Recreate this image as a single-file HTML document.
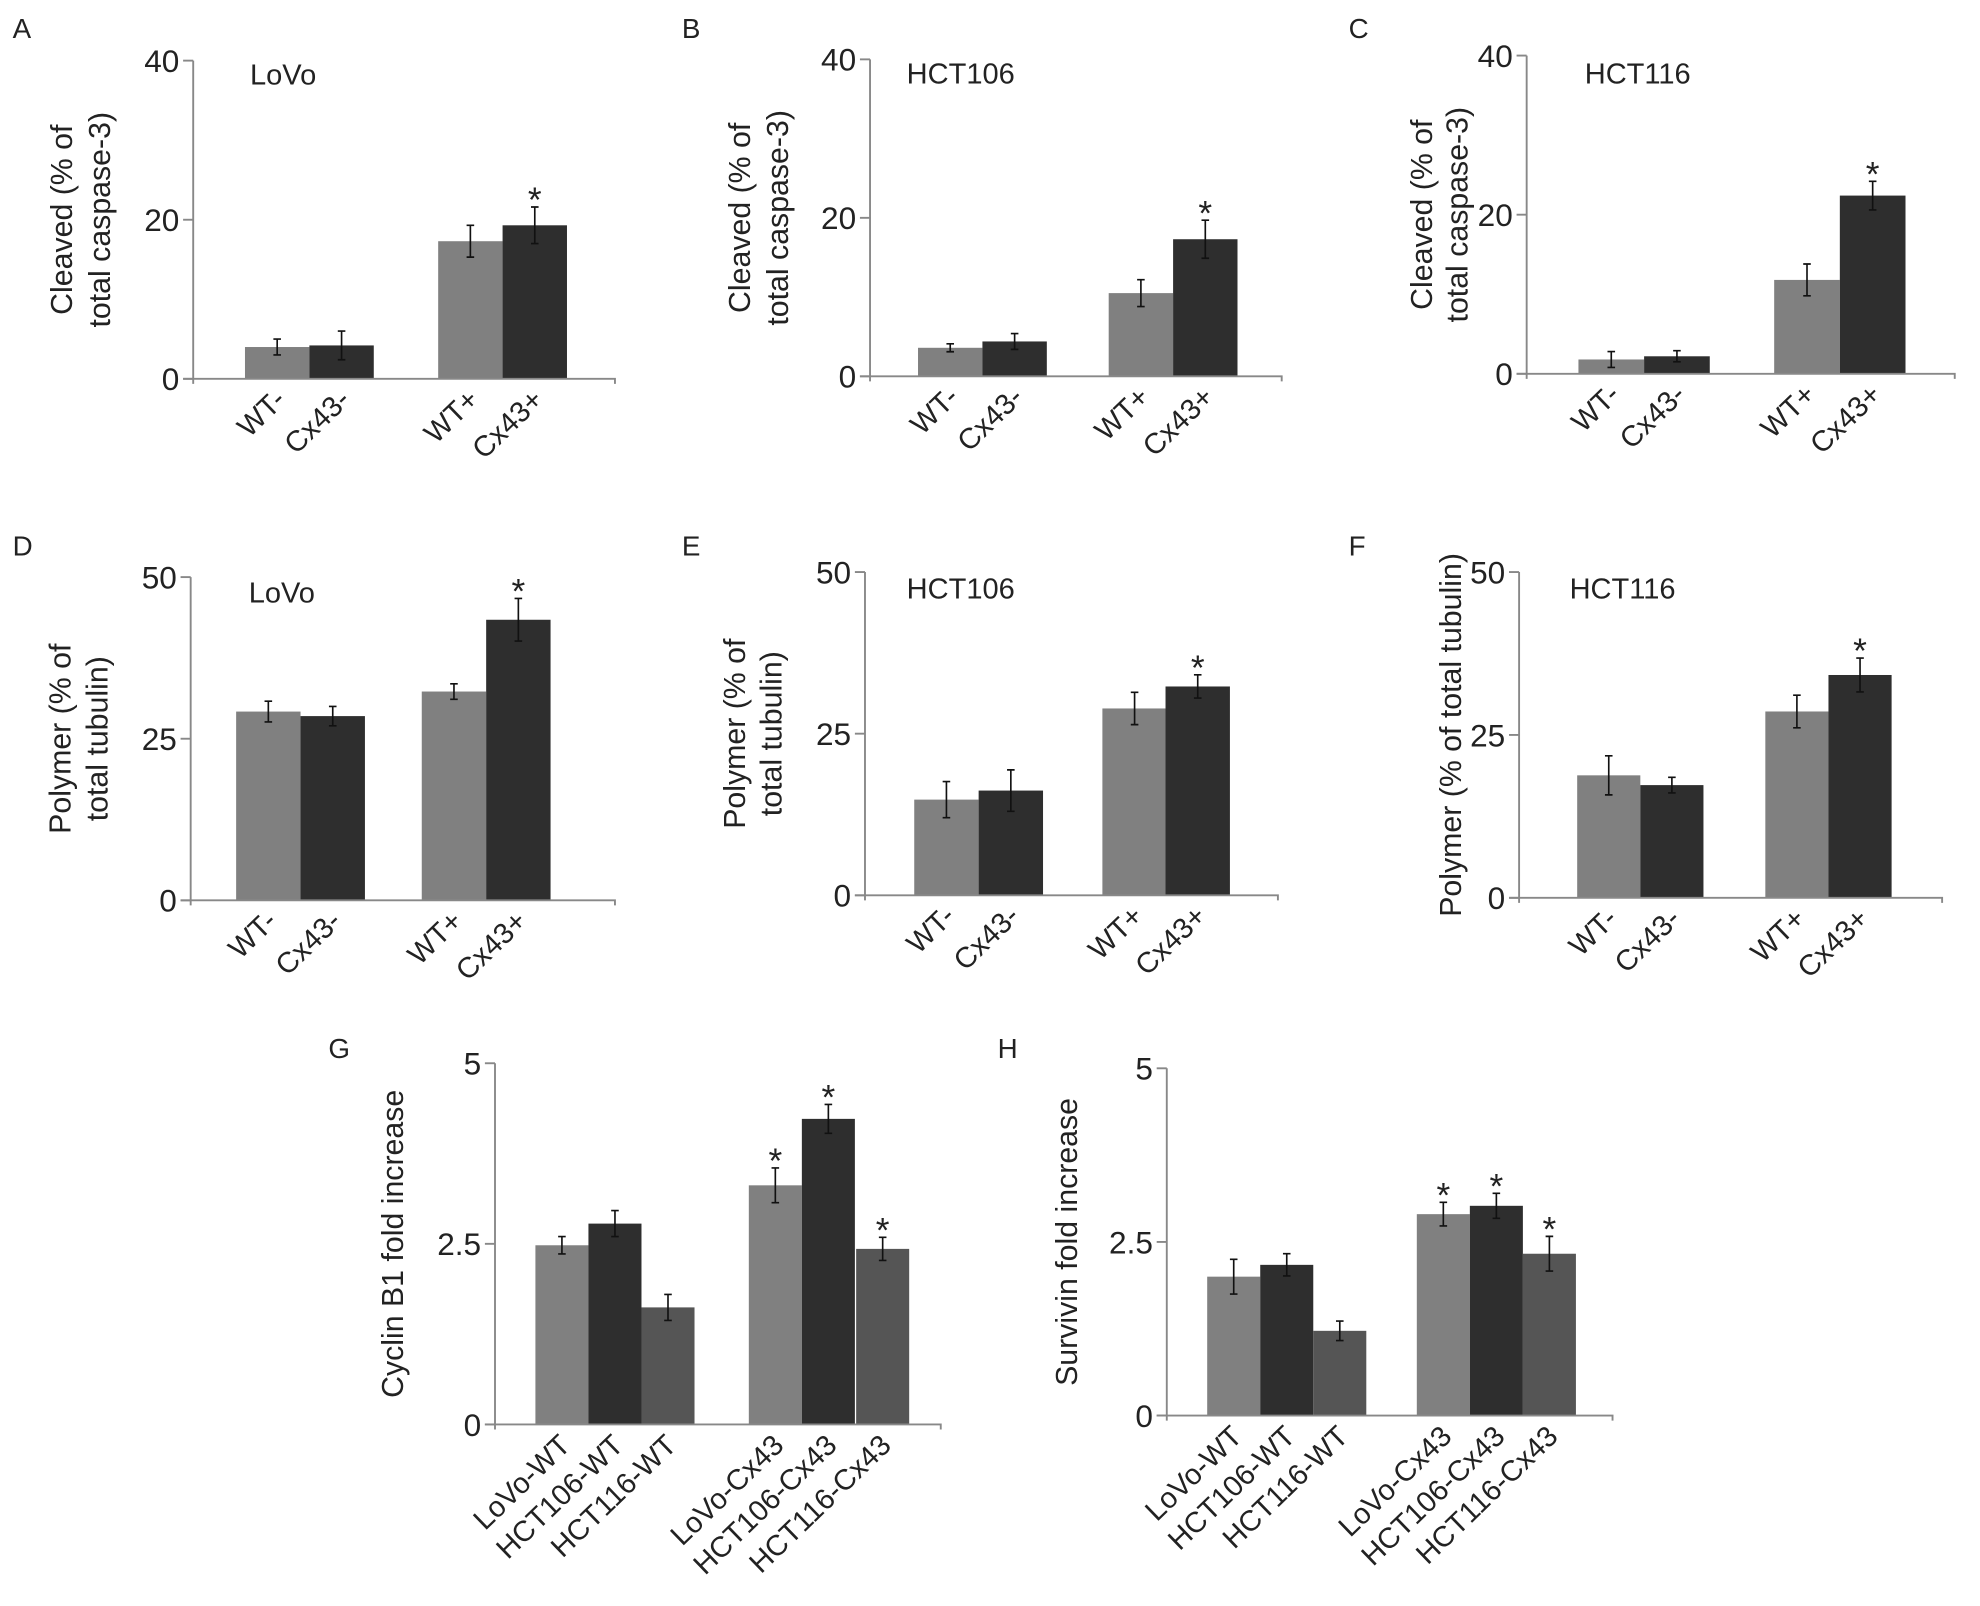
<!DOCTYPE html>
<html><head><meta charset="utf-8"><style>
html,body{margin:0;padding:0;background:#fff}
svg{display:block}
text{font-family:"Liberation Sans",Arial,sans-serif;fill:#222}
</style></head><body>
<svg id="fig" width="1980" height="1606" viewBox="0 0 1568 1271.8" xmlns="http://www.w3.org/2000/svg"></svg>
<script>
const catsAF = ["WT-","Cx43-","WT+","Cx43+"];
const catsGH = ["LoVo-WT","HCT106-WT","HCT116-WT","LoVo-Cx43","HCT106-Cx43","HCT116-Cx43"];
const valsA = [4.0,4.2,17.3,19.3];   const errA = [1.0,1.8,2.0,2.3];
const valsB = [3.6,4.4,10.5,17.3];   const errB = [0.5,1.0,1.7,2.4];
const valsC = [1.8,2.2,11.8,22.4];   const errC = [1.0,0.7,2.0,1.8];
const valsD = [29.2,28.5,32.3,43.4]; const errD = [1.6,1.5,1.2,3.3];
const valsE = [14.8,16.2,28.9,32.3]; const errE = [2.8,3.2,2.5,1.8];
const valsF = [18.8,17.3,28.6,34.2]; const errF = [3.0,1.2,2.5,2.6];
const valsG = [2.48,2.78,1.62,3.31,4.23,2.43]; const errG = [0.12,0.18,0.18,0.24,0.2,0.16];
const valsH = [2.0,2.17,1.22,2.9,3.02,2.33];   const errH = [0.25,0.16,0.14,0.17,0.18,0.25];
const sigAF = [false,false,false,true];
const sigGH = [false,false,false,true,true,true];
const ticksCasp = [0,20,40];
const ticksTub = [0,25,50];
const ticksFold = [0,2.5,5];
const tickFoldLabels = ["0","2.5","5"];

const NS="http://www.w3.org/2000/svg";
const svg=document.getElementById('fig');
function mk(tag,attrs,parent,text){const e=document.createElementNS(NS,tag);for(const k in attrs)e.setAttribute(k,attrs[k]);if(text!==undefined)e.textContent=text;(parent||svg).appendChild(e);return e;}

const cLight="#808080",cDark="#2e2e2e",cMed="#555555";
const panels=[
 {id:"a",letter:"A",lx:10,ly:30,title:"LoVo",tx:198,ty:67,ax:153,top:48,y0:300,xend:487,max:40,ticks:ticksCasp,tl:null,cats:catsAF,vals:valsA,err:errA,sig:sigAF,x0:[194,245,347,398],bw:51,cols:[cLight,cDark,cLight,cDark],yt:["Cleaved (% of","total caspase-3)"],ytx:[57,87]},
 {id:"b",letter:"B",lx:540,ly:30,title:"HCT106",tx:718,ty:66,ax:689,top:47,y0:298,xend:1015,max:40,ticks:ticksCasp,tl:null,cats:catsAF,vals:valsB,err:errB,sig:sigAF,x0:[727,778,878,929],bw:51,cols:[cLight,cDark,cLight,cDark],yt:["Cleaved (% of","total caspase-3)"],ytx:[594,624]},
 {id:"c",letter:"C",lx:1068,ly:30,title:"HCT116",tx:1255,ty:66,ax:1209,top:44,y0:296,xend:1548,max:40,ticks:ticksCasp,tl:null,cats:catsAF,vals:valsC,err:errC,sig:sigAF,x0:[1250,1302,1405,1457],bw:52,cols:[cLight,cDark,cLight,cDark],yt:["Cleaved (% of","total caspase-3)"],ytx:[1134,1162]},
 {id:"d",letter:"D",lx:10,ly:440,title:"LoVo",tx:197,ty:477,ax:151,top:457,y0:713,xend:487,max:50,ticks:ticksTub,tl:null,cats:catsAF,vals:valsD,err:errD,sig:sigAF,x0:[187,238,334,385],bw:51,cols:[cLight,cDark,cLight,cDark],yt:["Polymer (% of","total tubulin)"],ytx:[56,85]},
 {id:"e",letter:"E",lx:540,ly:440,title:"HCT106",tx:718,ty:474,ax:685,top:453,y0:709,xend:1012,max:50,ticks:ticksTub,tl:null,cats:catsAF,vals:valsE,err:errE,sig:sigAF,x0:[724,775,873,923],bw:51,cols:[cLight,cDark,cLight,cDark],yt:["Polymer (% of","total tubulin)"],ytx:[590,619]},
 {id:"f",letter:"F",lx:1068,ly:440,title:"HCT116",tx:1243,ty:474,ax:1203,top:453,y0:711,xend:1538,max:50,ticks:ticksTub,tl:null,cats:catsAF,vals:valsF,err:errF,sig:sigAF,x0:[1249,1299,1398,1448],bw:50,cols:[cLight,cDark,cLight,cDark],yt:["Polymer (% of total tubulin)"],ytx:[1157]},
 {id:"g",letter:"G",lx:260,ly:838,title:null,ax:392,top:842,y0:1128,xend:745,max:5,ticks:ticksFold,tl:tickFoldLabels,cats:catsGH,vals:valsG,err:errG,sig:sigGH,x0:[424,466,508,593,635,678],bw:42,cols:[cLight,cDark,cMed,cLight,cDark,cMed],yt:["Cyclin B1 fold increase"],ytx:[319]},
 {id:"h",letter:"H",lx:790,ly:838,title:null,ax:924,top:846,y0:1121,xend:1277,max:5,ticks:ticksFold,tl:tickFoldLabels,cats:catsGH,vals:valsH,err:errH,sig:sigGH,x0:[956,998,1040,1122,1164,1206],bw:42,cols:[cLight,cDark,cMed,cLight,cDark,cMed],yt:["Survivin fold increase"],ytx:[853]}
];

panels.forEach(p=>{
  const g=mk('g',{});
  
  
  const yS=v=>p.y0-(v/p.max)*(p.y0-p.top);
  const L=mk('text',{x:p.lx,y:p.ly,'font-size':22},g,p.letter);
  
  
  if(p.title){const t=mk('text',{x:p.tx,y:p.ty,'font-size':23},g,p.title);
    
    }
  p.vals.forEach((v,i)=>{
    const r=mk('rect',{x:p.x0[i],y:yS(v),width:p.bw,height:p.y0-yS(v),fill:p.cols[i]},g);
    
    
    const cx=p.x0[i]+p.bw/2, e=p.err[i];
    const eb=mk('path',{d:`M${cx},${yS(v+e)}V${yS(v-e)}M${cx-3},${yS(v+e)}H${cx+3}M${cx-3},${yS(v-e)}H${cx+3}`,stroke:'#111','stroke-width':1.3,fill:'none'},g);
    
    
    if(p.sig[i]){const s=mk('text',{x:cx,y:yS(v+e)+4,'font-size':28,'text-anchor':'middle'},g,'*');
      
      }
    const lab=mk('text',{x:cx+8,y:p.y0+18,'font-size':23,'text-anchor':'end',transform:`rotate(-44 ${cx+8} ${p.y0+18})`},g,p.cats[i]);
    
    
  });
  const ya=mk('line',{x1:p.ax,y1:p.top,x2:p.ax,y2:p.y0+4,stroke:'#888','stroke-width':1.5},g);
  
  
  const xa=mk('path',{d:`M${p.ax-8},${p.y0}H${p.xend}v4`,stroke:'#888','stroke-width':1.5,fill:'none'},g);
  
  
  p.ticks.forEach((t,i)=>{
    const y=yS(t);
    mk('line',{x1:p.ax-8,y1:y,x2:p.ax,y2:y,stroke:'#888','stroke-width':1.5},g);
    const tl=mk('text',{x:p.ax-11,y:y+9,'font-size':25,'text-anchor':'end'},g,p.tl?p.tl[i]:String(t));
    
    
  });
  const cy=(p.top+p.y0)/2;
  p.yt.forEach((s,i)=>{
    const x=p.ytx[i];
    const t=mk('text',{x:x,y:cy,'font-size':24,'text-anchor':'middle',transform:`rotate(-90 ${x} ${cy})`},g,s);
    
    
  });
});
</script>
</body></html>
